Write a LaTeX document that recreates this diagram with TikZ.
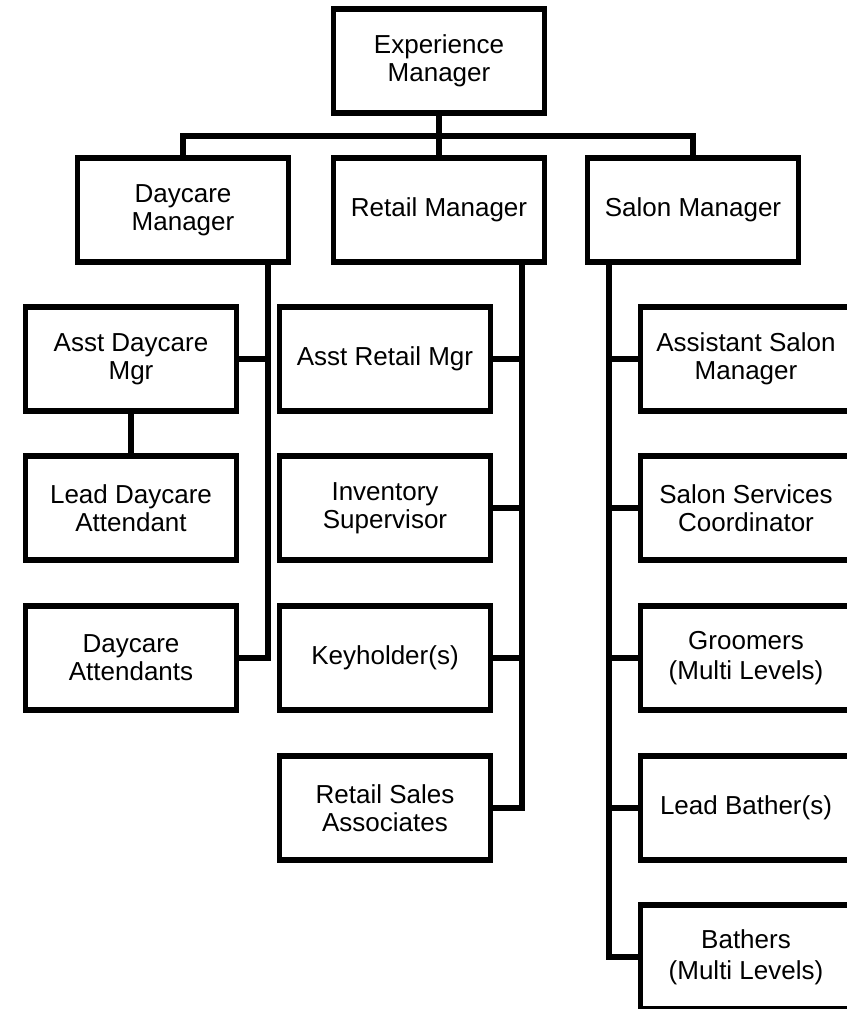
\documentclass[tikz,border=0pt]{standalone}
\usepackage{fontspec}
\setmainfont{Liberation Sans}
\begin{document}
\begin{tikzpicture}[x=0.75pt, y=-0.75pt,
  every node/.style={font=\fontsize{19.5}{21}\selectfont},
  role/.style={draw, line width=4pt, align=center, inner sep=0pt,
    minimum width=158pt, minimum height=78pt},
  link/.style={line width=4pt}]
\useasboundingbox (0,0) rectangle (846,1009);

\node[role] (exp) at (439,61) {Experience\\Manager};

\node[role] (daycare) at (183,210) {Daycare\\Manager};
\node[role] (retail) at (439,210) {Retail Manager};
\node[role] (salon) at (693,210) {Salon Manager};

\node[role] (asstdc) at (131,359) {Asst Daycare\\Mgr};
\node[role] (leaddc) at (131,508) {Lead Daycare\\Attendant};
\node[role] (dcatt) at (131,658) {Daycare\\Attendants};

\node[role] (asstrt) at (385,359) {Asst Retail Mgr};
\node[role] (inv) at (385,508) {Inventory\\Supervisor};
\node[role] (keyh) at (385,658) {Keyholder(s)};
\node[role] (rsa) at (385,808) {Retail Sales\\Associates};

\node[role] (asstsl) at (746,359) {Assistant Salon\\Manager};
\node[role] (ssc) at (746,508) {Salon Services\\Coordinator};
\node[role] (groom) at (746,658) {Groomers\\[2pt](Multi Levels)};
\node[role] (leadb) at (746,808) {Lead Bather(s)};
\node[role] (bath) at (746,957) {Bathers\\[2pt](Multi Levels)};

\coordinate (bar) at (439,136);
\coordinate (dcline) at (268,0);
\coordinate (rtline) at (522,0);
\coordinate (slline) at (609,0);

% top level
\draw[link] (exp.south) -- (retail.north);
\draw[link] (daycare.north) |- (bar) -| (salon.north);

% daycare
\draw[link] (daycare.south -| dcline) |- (dcatt.east);
\draw[link] (asstdc.east) -- (asstdc.east -| dcline);
\draw[link] (asstdc.south) -- (leaddc.north);

% retail
\draw[link] (retail.south -| rtline) |- (rsa.east);
\draw[link] (asstrt.east) -- (asstrt.east -| rtline);
\draw[link] (inv.east) -- (inv.east -| rtline);
\draw[link] (keyh.east) -- (keyh.east -| rtline);

% salon
\draw[link] (salon.south -| slline) |- (bath.west);
\draw[link] (asstsl.west) -- (asstsl.west -| slline);
\draw[link] (ssc.west) -- (ssc.west -| slline);
\draw[link] (groom.west) -- (groom.west -| slline);
\draw[link] (leadb.west) -- (leadb.west -| slline);
\end{tikzpicture}
\end{document}
